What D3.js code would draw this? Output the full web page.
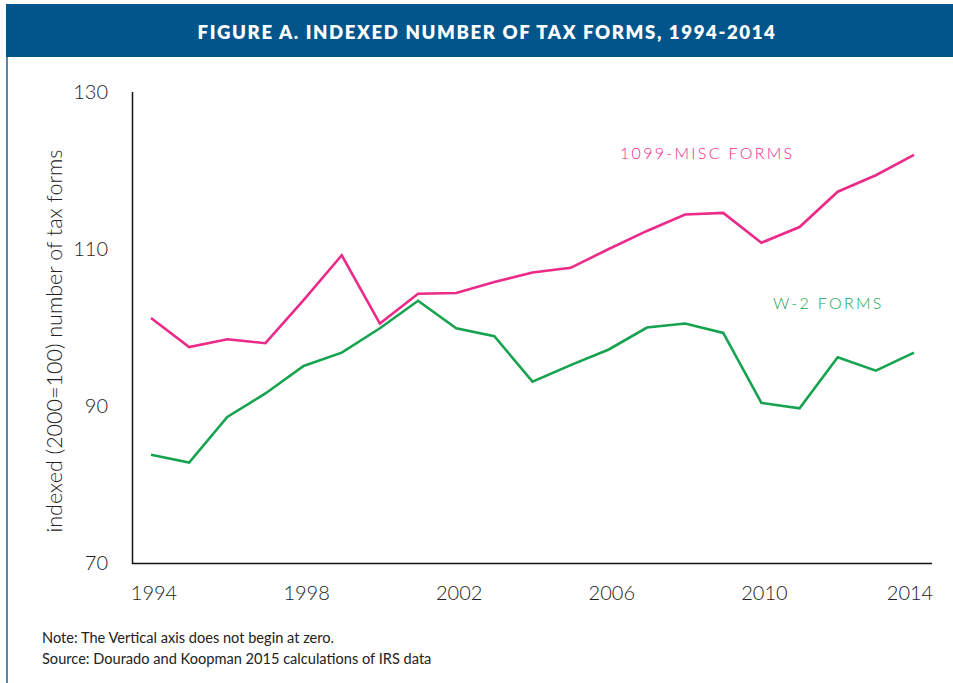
<!DOCTYPE html>
<html>
<head>
<meta charset="utf-8">
<script src="https://cdn.jsdelivr.net/npm/d3@7"></script>
<style>
  html, body { margin: 0; padding: 0; background: #fff; }
  svg { display: block; }
</style>
</head>
<body>
<script>
const years = [1994,1995,1996,1997,1998,1999,2000,2001,2002,2003,2004,2005,2006,2007,2008,2009,2010,2011,2012,2013,2014];
const misc1099 = [101.2,97.5,98.5,98.0,103.5,109.2,100.5,104.3,104.4,105.8,107.0,107.6,110.0,112.3,114.4,114.6,110.8,112.8,117.3,119.4,122.0];
const w2 = [83.8,82.8,88.6,91.6,95.1,96.8,99.9,103.4,99.9,98.9,93.1,95.2,97.2,100.0,100.5,99.3,90.4,89.7,96.2,94.5,96.8];
const xTicks = [1994,1998,2002,2006,2010,2014];
const yTicks = [70,90,110,130];
const title = "FIGURE A. INDEXED NUMBER OF TAX FORMS, 1994-2014";
const yLabel = "indexed (2000=100) number of tax forms";
const notes = ["Note: The Vertical axis does not begin at zero.", "Source: Dourado and Koopman 2015 calculations of IRS data"];

const W = 953, H = 683;
const svg = d3.select("body").append("svg").attr("width", W).attr("height", H);
const font = "Lato, 'Open Sans', sans-serif";

// frame + title bar
svg.append("line").attr("x1", 7).attr("x2", 7).attr("y1", 4).attr("y2", H)
  .attr("stroke", "#1f5f8f").attr("stroke-width", 1.5);
svg.append("rect").attr("x", 6).attr("y", 4).attr("width", W - 6).attr("height", 53).attr("fill", "#02558a");
svg.append("text").attr("x", 487).attr("y", 38.5).attr("text-anchor", "middle")
  .attr("fill", "#fff").attr("font-family", font).attr("font-weight", 800)
  .attr("font-size", 18.6).attr("letter-spacing", 1.6).text(title);

const x = d3.scaleLinear().domain([1994, 2014]).range([151, 914]);
const y = d3.scaleLinear().domain([70, 130]).range([563, 92]);

// axes lines
svg.append("line").attr("x1", 132.5).attr("x2", 132.5).attr("y1", 92).attr("y2", 564)
  .attr("stroke", "#111").attr("stroke-width", 1.5);
svg.append("line").attr("x1", 132).attr("x2", 932).attr("y1", 563.5).attr("y2", 563.5)
  .attr("stroke", "#111").attr("stroke-width", 1.5);

// y ticks
svg.selectAll(".ytick").data(yTicks).enter().append("text")
  .attr("x", 108).attr("y", d => y(d)).attr("dy", "0.36em")
  .attr("text-anchor", "end").attr("font-family", font).attr("font-weight", 300)
  .attr("font-size", 20).attr("fill", "#222").text(d => d);

// x ticks
svg.selectAll(".xtick").data(xTicks).enter().append("text")
  .attr("x", d => x(d) + (d === 2014 ? -4 : 3)).attr("y", 600)
  .attr("text-anchor", "middle").attr("font-family", font).attr("font-weight", 300)
  .attr("font-size", 20).attr("fill", "#222").text(d => d);

// y label
svg.append("text").attr("transform", "translate(62,341) rotate(-90)")
  .attr("text-anchor", "middle").attr("font-family", font).attr("font-weight", 300)
  .attr("font-size", 21.5).attr("fill", "#222").text(yLabel);

const line = d3.line().x((d, i) => x(years[i])).y(d => y(d));
svg.append("path").datum(misc1099).attr("d", line).attr("fill", "none")
  .attr("stroke", "#ec2a8a").attr("stroke-width", 2.6).attr("stroke-linejoin", "miter");
svg.append("path").datum(w2).attr("d", line).attr("fill", "none")
  .attr("stroke", "#16a34f").attr("stroke-width", 2.6).attr("stroke-linejoin", "miter");

svg.append("text").attr("x", 620).attr("y", 159).attr("font-family", font).attr("font-weight", 300)
  .attr("font-size", 16).attr("letter-spacing", 2.3).attr("fill", "#ec2a8a").text("1099-MISC FORMS");
svg.append("text").attr("x", 773).attr("y", 309).attr("font-family", font).attr("font-weight", 300)
  .attr("font-size", 16).attr("letter-spacing", 2.3).attr("fill", "#16a34f").text("W-2 FORMS");

svg.selectAll(".note").data(notes).enter().append("text")
  .attr("x", 42).attr("y", (d, i) => 643 + i * 21).attr("font-family", font)
  .attr("font-size", 14.6).attr("fill", "#222").text(d => d);
</script>
</body>
</html>
